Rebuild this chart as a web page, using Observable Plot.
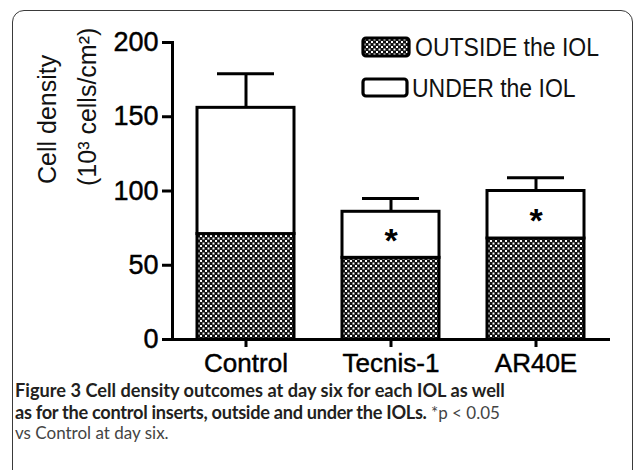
<!DOCTYPE html>
<html><head><meta charset="utf-8">
<script src="https://cdn.jsdelivr.net/npm/d3@7"></script>
<script src="https://cdn.jsdelivr.net/npm/@observablehq/plot@0.6"></script>
<style>
html,body{margin:0;padding:0;background:#fff}
body{width:634px;height:470px;overflow:hidden;position:relative;font-family:"Liberation Sans",Arial,sans-serif}
#frame{position:absolute;left:12px;top:10px;width:621px;height:520px;border:1.6px solid #3a3a3a;border-radius:12px;box-sizing:border-box}
#chart{position:absolute;left:0;top:0}
#chart g[aria-label$="tick label"] text{stroke:#000;stroke-width:0.45px}
#legend{position:absolute;left:0;top:0;font-size:25px;color:#111}
.item{position:absolute;display:flex;align-items:center;white-space:nowrap}
.item span{display:inline-block;transform:scaleX(0.92);transform-origin:left center}
#caption{position:absolute;left:15px;top:380px;width:618px;font-family:Lato,"Open Sans",sans-serif;font-size:17px;line-height:20.5px;color:#444}
#caption b{font-size:18.2px;color:#231f20}
#caption .l2{letter-spacing:-0.3px}
</style></head><body>
<div id="frame"></div>
<div id="chart"></div>
<div id="legend"></div>
<div id="caption"><b>Figure 3 Cell density outcomes at day six for each IOL as well<br><span class="l2">as for the control inserts, outside and under the IOLs.</span></b> *p &lt; 0.05<br>vs Control at day six.</div>
<script>
const groups = ["Control", "Tecnis-1", "AR40E"];
const outside = [71, 55, 68];       // OUTSIDE the IOL (lower segment)
const total = [156, 86, 100];       // OUTSIDE + UNDER (bar top)
const errorTop = [179, 95, 109];    // top of error bar
const significant = [false, true, true];
const seriesNames = ["OUTSIDE the IOL", "UNDER the IOL"];
const yTicks = [0, 50, 100, 150, 200];
const yLabel1 = "Cell density";
const yLabel2 = "(10³ cells/cm²)";

const rows = groups.map((g, i) => ({group: g, outside: outside[i], total: total[i], err: errorTop[i], sig: significant[i]}));

const svg = Plot.plot({
  width: 634, height: 378,
  marginLeft: 172, marginRight: 24, marginTop: 42, marginBottom: 39,
  style: {background: "transparent", fontFamily: "'Liberation Sans', Arial, sans-serif", color: "black"},
  x: {domain: groups, paddingInner: 0.33, paddingOuter: 0.17, axis: null},
  y: {domain: [0, 200], axis: null},
  marks: [
    Plot.barY(rows, {x: "group", y1: 0, y2: "outside", fill: "url(#checker)", stroke: "black", strokeWidth: 3}),
    Plot.barY(rows, {x: "group", y1: "outside", y2: "total", fill: "white", stroke: "black", strokeWidth: 3}),
    Plot.ruleX(rows, {x: "group", y1: "total", y2: "err", stroke: "black", strokeWidth: 3}),
    Plot.tickY(rows, {x: "group", y: "err", stroke: "black", strokeWidth: 3, insetLeft: 20, insetRight: 20}),
    Plot.text(rows.filter(d => d.sig), {x: "group", y: d => (d.outside + d.total) / 2, text: () => "*", fontSize: 34, fontWeight: "bold", dy: 6}),
    Plot.frame({anchor: "left", stroke: "black", strokeWidth: 3}),
    Plot.ruleY([0], {stroke: "black", strokeWidth: 3}),
    Plot.axisY({ticks: yTicks, tickSize: 10, tickPadding: 4, fontSize: 27, strokeWidth: 3, label: null}),
    Plot.axisX({tickSize: 8, tickPadding: 6, fontSize: 26, strokeWidth: 3, label: null}),
    Plot.text([yLabel1], {text: d => d, frameAnchor: "left", rotate: -90, dx: -125, dy: -7, fontSize: 25, fill: "#111"}),
    Plot.text([yLabel2], {text: d => d, frameAnchor: "left", rotate: -90, dx: -85, dy: -5, fontSize: 25, fill: "#111"})
  ]
});

const defs = d3.select(svg).insert("defs", ":first-child");
const pat = defs.append("pattern").attr("id", "checker").attr("patternUnits", "userSpaceOnUse")
  .attr("width", 5).attr("height", 5);
pat.append("rect").attr("width", 5).attr("height", 5).attr("fill", "#111");
pat.append("rect").attr("x", 0).attr("y", 0).attr("width", 2).attr("height", 2).attr("fill", "#fff");
pat.append("rect").attr("x", 2.5).attr("y", 2.5).attr("width", 2).attr("height", 2).attr("fill", "#fff");
document.getElementById("chart").appendChild(svg);

// legend
const legend = d3.select("#legend");
const legendPos = [{x: 363, y: 38, w: 47, h: 19, fill: "url(#checker)", tx: 415, ty: 47}, {x: 363, y: 79, w: 45, h: 18, fill: "#fff", tx: 412, ty: 88}];
seriesNames.forEach((name, i) => {
  const p = legendPos[i];
  const sw = legend.append("svg").style("position", "absolute").style("left", (p.x - 2) + "px").style("top", (p.y - 2) + "px")
    .attr("width", p.w + 4).attr("height", p.h + 4);
  sw.append("rect").attr("x", 2).attr("y", 2).attr("width", p.w - 1).attr("height", p.h - 1).attr("rx", 3)
    .attr("fill", p.fill).attr("stroke", "black").attr("stroke-width", 3.2);
  legend.append("div").attr("class", "item").style("left", p.tx + "px").style("top", (p.ty - 15) + "px")
    .style("height", "30px").append("span").text(name);
});
</script>
</body></html>
